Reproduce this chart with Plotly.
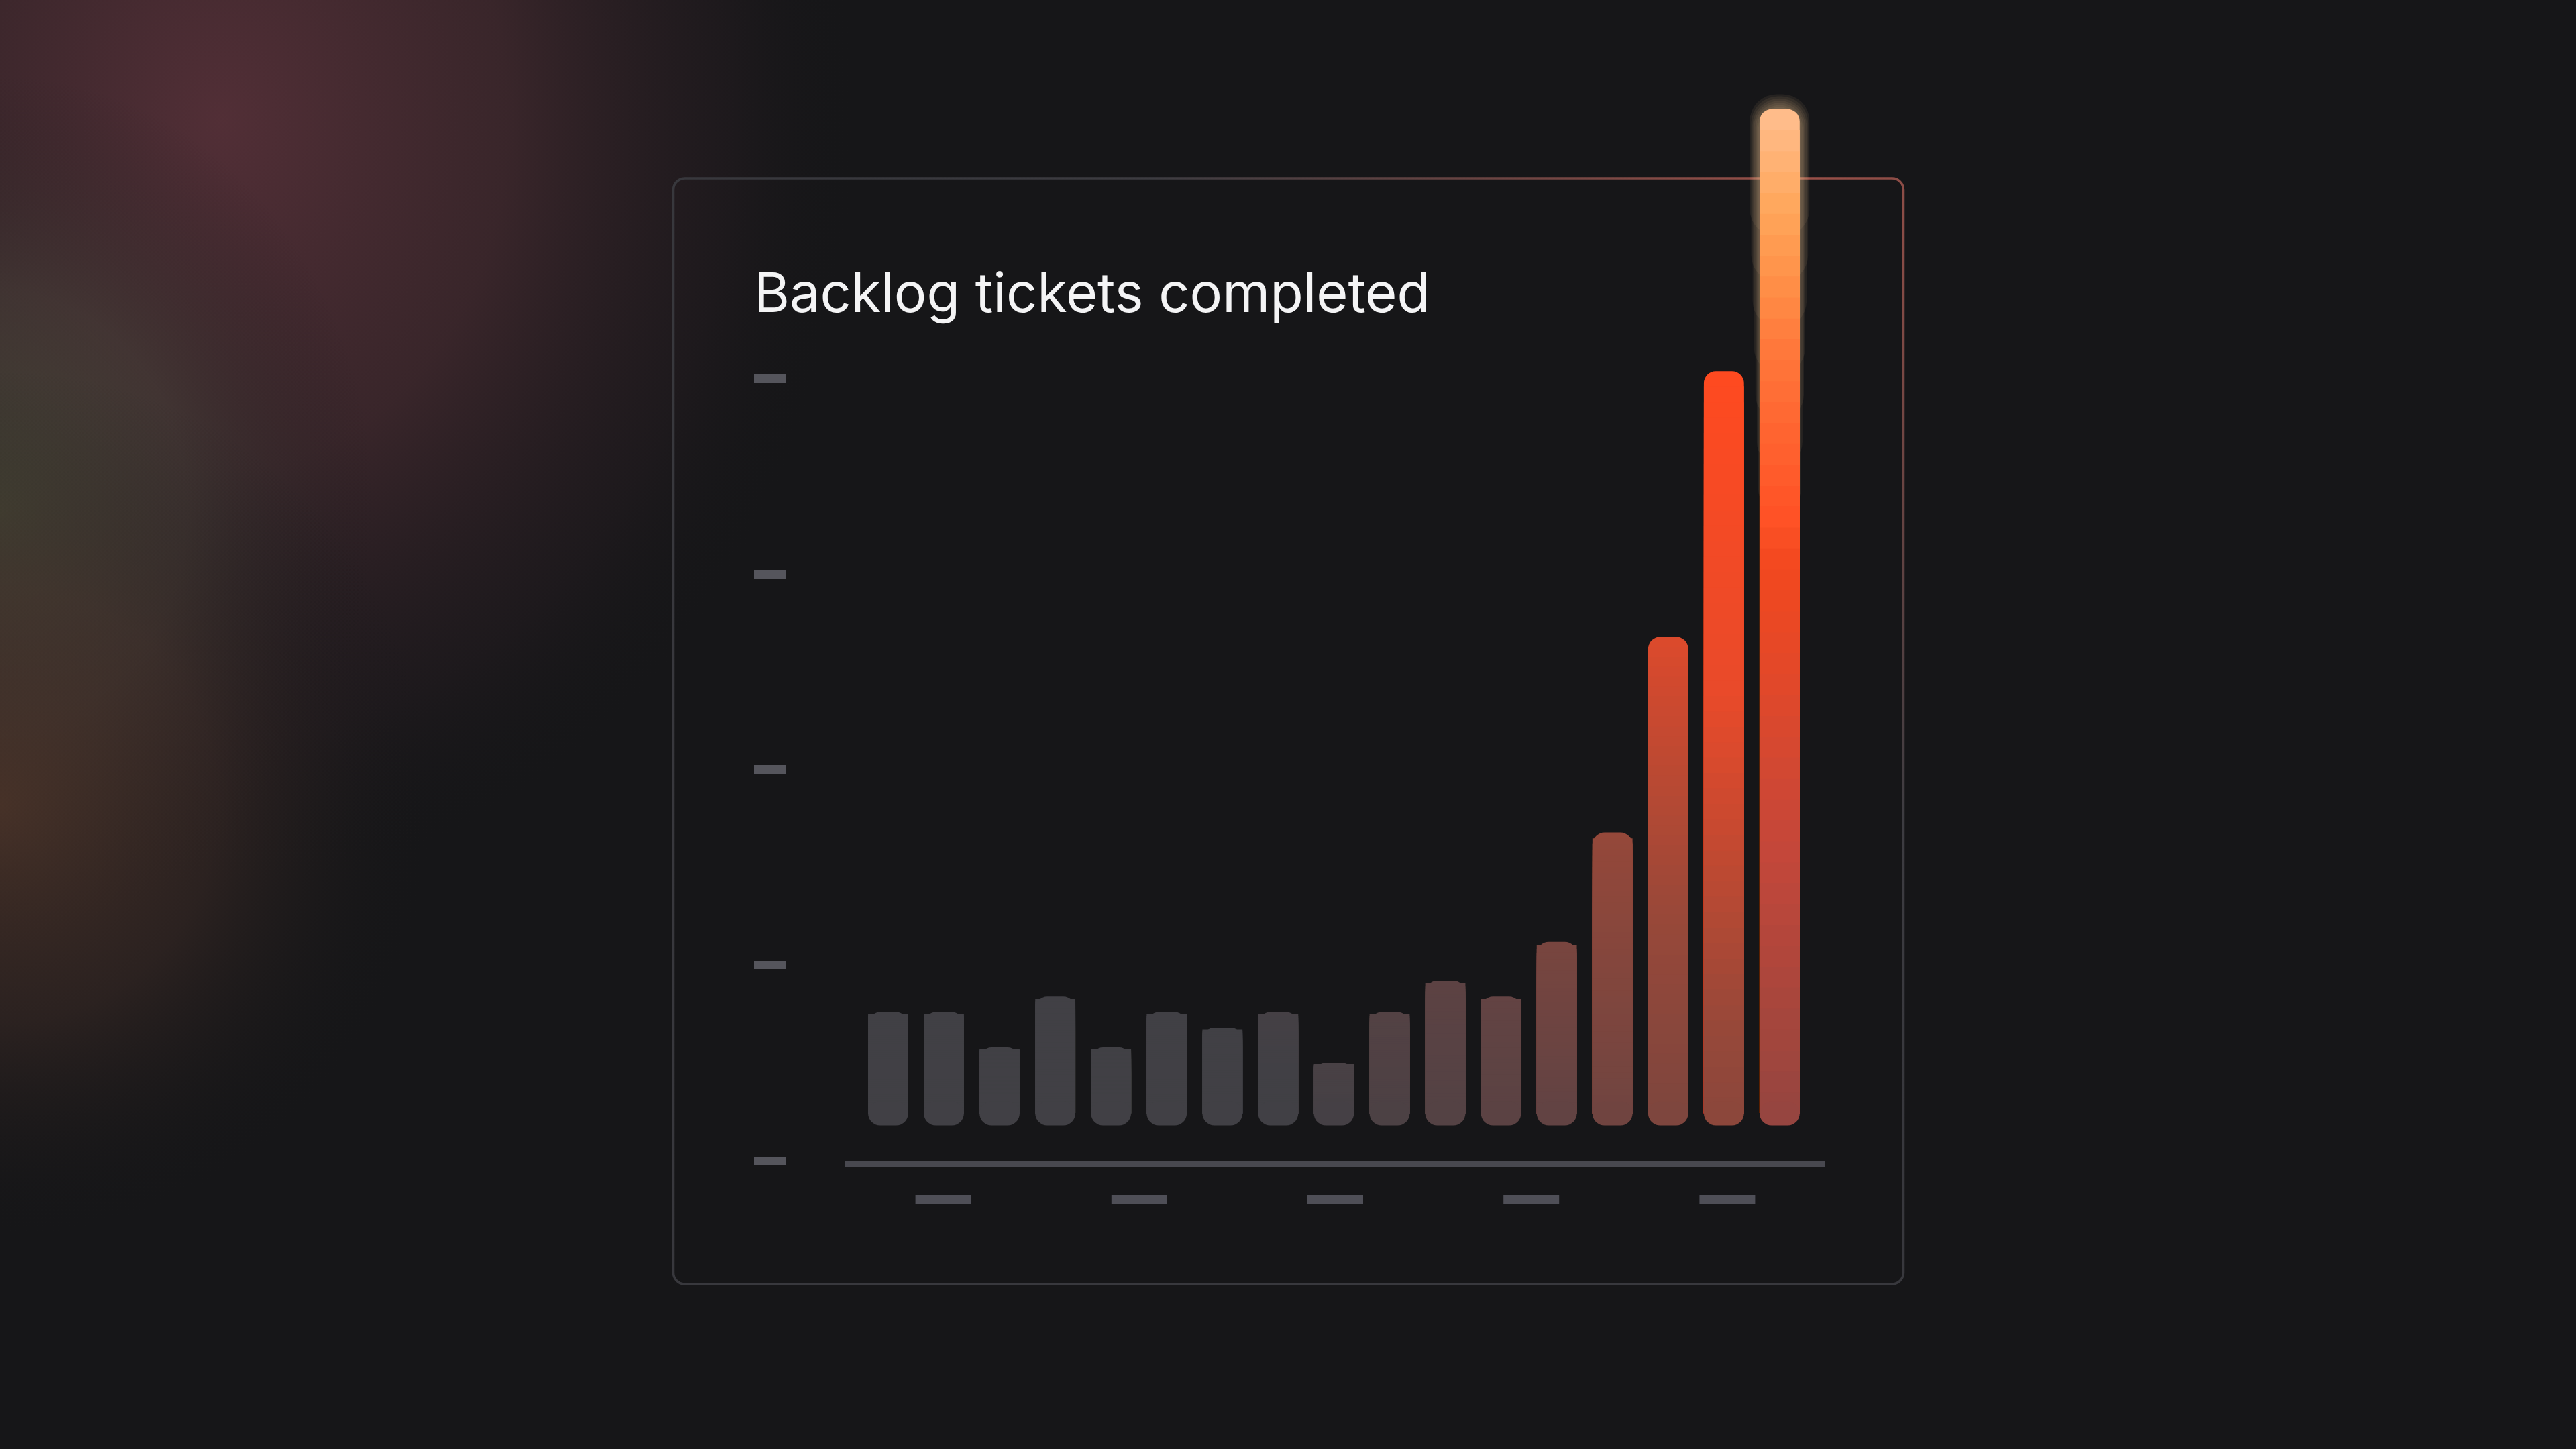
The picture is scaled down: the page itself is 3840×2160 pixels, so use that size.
import base64
import plotly.graph_objects as go

# chart data
weeks = ["W1", "W2", "W3", "W4", "W5", "W6", "W7", "W8", "W9",
         "W10", "W11", "W12", "W13", "W14", "W15", "W16", "W17"]
tickets_completed = [29, 29, 20, 33, 20, 29, 25, 29, 16, 29, 37, 33, 47, 75, 125, 193, 260]
y_tick_values = [0, 50, 100, 150, 200]
title_text = "Backlog tickets completed"
n_x_placeholders = 5

# canvas / style settings
W, H = 3840, 2160
BG = "#161618"
GAP = 9                 # bars float a little above the baseline (data units)
PX_PER_UNIT = 5.826     # vertical scale used to pick the axis range
RADIUS_PX = 18
R = RADIUS_PX / PX_PER_UNIT
N_SLICES = 48
BAR_W = 0.72
AXIS_BOTTOM_PX = 1730

# colour ramps used to fake the gradient fill of the bars
chart_stops = [(0.0, "#414045"), (0.3, "#624343"), (0.55, "#984839"),
               (0.75, "#e84a2a"), (0.95, "#ff4a20"), (1.0, "#ff5020")]
peak_stops = [(0.0, "#944540"), (0.12, "#a8463c"), (0.27, "#c4473a"),
              (0.43, "#e0482a"), (0.55, "#f2481f"), (0.6, "#ff5226"),
              (0.71, "#ff6b34"), (0.77, "#ff7a3c"), (0.83, "#ff9048"),
              (0.9, "#ffa65a"), (1.0, "#ffbf90")]


def hex_rgb(h):
    h = h.lstrip("#")
    return [int(h[i:i + 2], 16) for i in (0, 2, 4)]


def ramp(stops, t):
    t = max(0.0, min(1.0, t))
    for (t0, c0), (t1, c1) in zip(stops[:-1], stops[1:]):
        if t <= t1:
            f = (t - t0) / (t1 - t0) if t1 > t0 else 0
            a, b = hex_rgb(c0), hex_rgb(c1)
            return "rgb(%d,%d,%d)" % tuple(round(a[j] + (b[j] - a[j]) * f) for j in range(3))
    return stops[-1][1]


def bar_color(i, level, frac):
    # last bar gets its own bright ramp, the others follow a diagonal wash
    if i == len(tickets_completed) - 1:
        return ramp(peak_stops, frac)
    tx = (i - 7.54) / 8.43
    ty = (level - 8.6) / 188.8
    return ramp(chart_stops, 0.55 * tx + 0.45 * ty)


fig = go.Figure()

# soft glow behind the tallest bar
last = len(tickets_completed) - 1
v_last = tickets_completed[last]
for j in range(1, 8):
    base = GAP + v_last * (0.56 + 0.045 * j)
    fig.add_trace(go.Bar(
        x=[weeks[last]], y=[GAP + v_last + 0.55 * j - base], base=base,
        width=BAR_W + 0.05 * j,
        marker=dict(color="rgba(255,216,155,0.07)", cornerradius=40, line_width=0),
        hoverinfo="skip",
    ))

# bar bodies, drawn as overlapping slices (tallest first) to get a gradient
for k in range(N_SLICES, 0, -1):
    heights = [(v - R) * k / N_SLICES for v in tickets_completed]
    colors = []
    for i, v in enumerate(tickets_completed):
        mid = GAP + R + (v - R) * (k - 0.5) / N_SLICES
        colors.append(bar_color(i, mid, (mid - GAP) / v))
    fig.add_trace(go.Bar(
        x=weeks, y=heights, base=GAP + R, width=BAR_W,
        marker=dict(color=colors, cornerradius=RADIUS_PX if k == N_SLICES else 0, line_width=0),
        customdata=tickets_completed,
        hovertemplate="%{x}: %{customdata} tickets<extra></extra>" if k == N_SLICES else None,
        hoverinfo=None if k == N_SLICES else "skip",
    ))

# rounded bottom ends
fig.add_trace(go.Bar(
    x=weeks, y=[-2 * R] * len(weeks), base=GAP + 2 * R, width=BAR_W,
    marker=dict(color=[bar_color(i, GAP + R, R / v) for i, v in enumerate(tickets_completed)],
                cornerradius=RADIUS_PX, line_width=0),
    hoverinfo="skip",
))

# background glow + card outline as an svg image
svg = f"""<svg xmlns="http://www.w3.org/2000/svg" width="{W}" height="{H}" viewBox="0 0 {W} {H}">
<defs>
<radialGradient id="ga"><stop offset="0" stop-color="#553038" stop-opacity="0.95"/>
<stop offset="0.45" stop-color="#4c2e34" stop-opacity="0.65"/><stop offset="0.8" stop-color="#34232a" stop-opacity="0.25"/>
<stop offset="1" stop-color="#161618" stop-opacity="0"/></radialGradient>
<radialGradient id="gb"><stop offset="0" stop-color="#4a4c38" stop-opacity="0.8"/>
<stop offset="0.5" stop-color="#46443a" stop-opacity="0.45"/><stop offset="1" stop-color="#161618" stop-opacity="0"/></radialGradient>
<radialGradient id="gc"><stop offset="0" stop-color="#50362a" stop-opacity="0.8"/>
<stop offset="0.5" stop-color="#45302a" stop-opacity="0.45"/><stop offset="1" stop-color="#161618" stop-opacity="0"/></radialGradient>
<radialGradient id="border" gradientUnits="userSpaceOnUse" cx="2700" cy="250" r="1400">
<stop offset="0" stop-color="#9a5048"/><stop offset="0.35" stop-color="#6a4442"/>
<stop offset="0.7" stop-color="#3d3c41"/><stop offset="1" stop-color="#38383d"/></radialGradient>
</defs>
<ellipse cx="330" cy="180" rx="950" ry="1150" fill="url(#ga)"/>
<ellipse cx="0" cy="760" rx="560" ry="650" fill="url(#gb)"/>
<ellipse cx="0" cy="1200" rx="650" ry="650" fill="url(#gc)"/>
<rect x="1003.5" y="266" width="1834" height="1648" rx="17" fill="none" stroke="url(#border)" stroke-width="3.5"/>
</svg>"""
svg_src = "data:image/svg+xml;base64," + base64.b64encode(svg.encode()).decode()

# placeholder dashes under the baseline
dash_half = 41.5 / 1461
shapes = []
for k in range(n_x_placeholders):
    c = (2 * k + 1) / (2 * n_x_placeholders)
    shapes.append(dict(
        type="line", xref="x domain", yref="paper",
        x0=c - dash_half, x1=c + dash_half, y0=1 - 1788 / H, y1=1 - 1788 / H,
        line=dict(color="#4f4f57", width=14), layer="below",
    ))

fig.update_layout(
    width=W, height=H,
    margin=dict(l=0, r=0, t=0, b=0),
    paper_bgcolor=BG, plot_bgcolor="rgba(0,0,0,0)",
    barmode="overlay", showlegend=False,
    xaxis=dict(
        type="category", categoryorder="array", categoryarray=weeks,
        domain=[1260 / W, 2721 / W], range=[-0.77, 16.82],
        showline=True, linecolor="#48484f", linewidth=9,
        showticklabels=False, ticks="", showgrid=False, zeroline=False,
    ),
    yaxis=dict(
        domain=[1 - AXIS_BOTTOM_PX / H, 1], range=[0, AXIS_BOTTOM_PX / PX_PER_UNIT],
        anchor="free", position=1171 / W,
        tickvals=y_tick_values, ticks="outside", ticklen=47, tickwidth=13,
        tickcolor="#55555c", showticklabels=False,
        showgrid=False, zeroline=False, showline=False,
    ),
    images=[dict(
        source=svg_src, xref="paper", yref="paper", x=0, y=1,
        sizex=1, sizey=1, xanchor="left", yanchor="top",
        sizing="stretch", layer="below",
    )],
    shapes=shapes,
    annotations=[dict(
        text=title_text, xref="paper", yref="paper",
        x=1122 / W, y=1 - 436 / H, xanchor="left", yanchor="middle",
        showarrow=False, font=dict(family="Inter", size=81, color="#f4f4f5"),
    )],
)

fig.write_html(
    "out.html",
    config={"displayModeBar": False},
    post_script="document.body.style.margin='0';document.body.style.overflow='hidden';",
)
